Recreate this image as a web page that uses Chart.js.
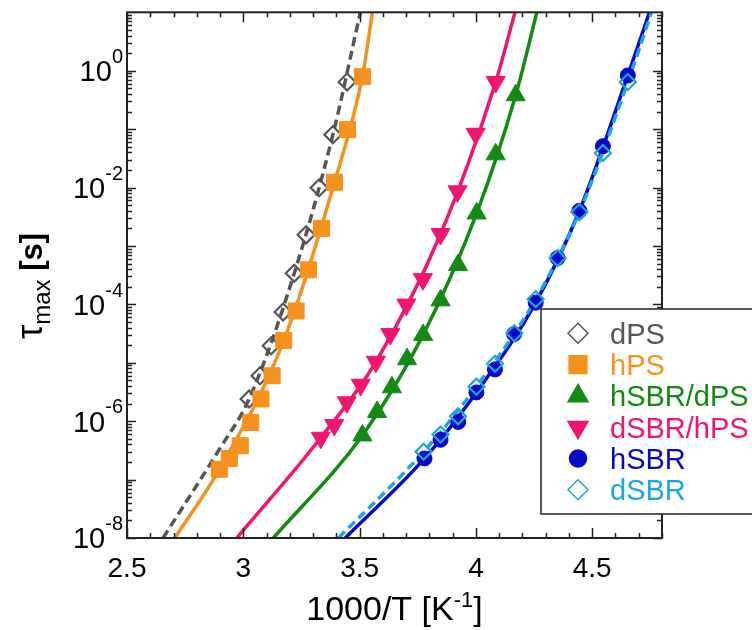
<!DOCTYPE html>
<html>
<head>
<meta charset="utf-8">
<script src="https://cdn.jsdelivr.net/npm/chart.js"></script>
<style>
  html, body { margin: 0; padding: 0; background: #fff; }
  canvas { display: block; }
</style>
</head>
<body>
<canvas id="tauChart" width="752" height="630"></canvas>
<script>
// x = 1000/T [1/K], y = tau_max [s]

// dPS (open grey diamonds + dashed fit)
const dpsX = [3.025, 3.072, 3.120, 3.171, 3.219, 3.270, 3.326, 3.385, 3.446];
const dpsY = [2.4e-6, 6.0e-6, 1.96e-5, 7.4e-5, 3.4e-4, 1.55e-3, 9.9e-3, 8.0e-2, 0.64];
const dpsFitX = [2.655, 2.897, 3.025, 3.219, 3.385, 3.503];
const dpsFitY = [1e-8, 3.3e-7, 2.4e-6, 3.4e-4, 8.0e-2, 10];

// hPS (orange squares)
const hpsX = [2.897, 2.940, 2.987, 3.032, 3.076, 3.124, 3.174, 3.227, 3.280, 3.336, 3.392, 3.448, 3.512];
const hpsY = [1.5e-7, 2.3e-7, 3.8e-7, 9.5e-7, 2.4e-6, 6.0e-6, 2.4e-5, 7.7e-5, 3.9e-4, 2.0e-3, 1.23e-2, 9.8e-2, 0.79];
const hpsFitX = [2.706, 2.897, 3.174, 3.392, 3.512, 3.555];
const hpsFitY = [1e-8, 1.5e-7, 2.4e-5, 1.23e-2, 0.79, 10];

// hSBR/dPS (green up triangles)
const hsbrDpsX = [3.512, 3.575, 3.639, 3.704, 3.773, 3.848, 3.923, 4.003, 4.085, 4.171];
const hsbrDpsY = [5.7e-7, 1.44e-6, 3.8e-6, 1.15e-5, 3.0e-5, 1.17e-4, 4.7e-4, 3.6e-3, 3.7e-2, 0.38];
const hsbrDpsFitX = [3.129, 3.512, 3.773, 4.003, 4.171, 4.262];
const hsbrDpsFitY = [1e-8, 5.7e-7, 3.0e-5, 3.6e-3, 0.38, 10];

// dSBR/hPS (pink down triangles)
const dsbrHpsX = [3.333, 3.391, 3.445, 3.505, 3.570, 3.632, 3.701, 3.772, 3.848, 3.921, 3.999, 4.085];
const dsbrHpsY = [5.2e-7, 8.6e-7, 2.1e-6, 4.2e-6, 1.04e-5, 3.1e-5, 9.9e-5, 2.7e-4, 1.6e-3, 8.6e-3, 8.3e-2, 0.64];
const dsbrHpsFitX = [2.972, 3.333, 3.570, 3.848, 4.085, 4.168];
const dsbrHpsFitY = [1e-8, 5.2e-7, 1.04e-5, 1.6e-3, 0.64, 10];

// hSBR (blue circles)
const hsbrX = [3.779, 3.848, 3.924, 4.002, 4.082, 4.164, 4.257, 4.351, 4.445, 4.546, 4.653];
const hsbrY = [2.3e-7, 4.8e-7, 9.7e-7, 3.1e-6, 7.7e-6, 3.1e-5, 1.07e-4, 6.2e-4, 4.0e-3, 5.1e-2, 0.83];
const hsbrFitX = [3.438, 3.779, 4.002, 4.257, 4.445, 4.653, 4.746];
const hsbrFitY = [1e-8, 2.3e-7, 3.1e-6, 1.07e-4, 4.0e-3, 0.83, 10];

// dSBR (open light-blue diamonds)
const dsbrX = [3.775, 3.848, 3.923, 4.002, 4.082, 4.165, 4.257, 4.351, 4.445, 4.546, 4.653];
const dsbrY = [3.0e-7, 5.9e-7, 1.21e-6, 3.9e-6, 9.6e-6, 3.2e-5, 1.22e-4, 6.2e-4, 3.8e-3, 3.9e-2, 0.64];
const dsbrFitX = [3.409, 3.775, 4.002, 4.257, 4.445, 4.653, 4.755];
const dsbrFitY = [1e-8, 3.0e-7, 3.9e-6, 1.22e-4, 3.8e-3, 0.64, 10];

// axis ticks
const xTickLabels = [2.5, 3, 3.5, 4, 4.5];
const yTickExponents = [0, -2, -4, -6, -8];

const FONT = "'Liberation Sans', Arial, sans-serif";
const GREY = '#555555';
const ORANGE = '#F7911D';
const GREEN = '#138A13';
const PINK = '#F2146F';
const BLUE = '#0808C8';
const LIGHTBLUE = '#1AA7E0';

const pts = (xs, ys) => xs.map((x, i) => ({ x: x, y: ys[i] }));

function fitLine(xs, ys, color, dashed, order) {
    return {
        data: pts(xs, ys),
        showLine: true,
        borderColor: color,
        borderWidth: 3.5,
        borderDash: dashed ? [9, 5] : [],
        pointRadius: 0,
        cubicInterpolationMode: 'monotone',
        order: order
    };
}

function markers(label, xs, ys, opts, order) {
    return Object.assign({
        label: label,
        data: pts(xs, ys),
        showLine: false,
        order: order
    }, opts);
}

const legendItems = [
    { text: 'dPS', color: GREY, style: 'rectRot', radius: 10, fill: false },
    { text: 'hPS', color: ORANGE, style: 'rect', radius: 12.5, fill: true },
    { text: 'hSBR/dPS', color: GREEN, style: 'triangle', radius: 11.5, fill: true },
    { text: 'dSBR/hPS', color: PINK, style: 'triangle', radius: 11.5, rotation: 180, fill: true },
    { text: 'hSBR', color: BLUE, style: 'circle', radius: 8.5, fill: true },
    { text: 'dSBR', color: LIGHTBLUE, style: 'rectRot', radius: 10, fill: false }
];

// draws a base string followed by a raised/lowered smaller string, returns total width
function textWithScript(ctx, base, baseFont, script, scriptFont, x, y, dy) {
    ctx.font = baseFont;
    ctx.fillText(base, x, y);
    const bw = ctx.measureText(base).width;
    ctx.font = scriptFont;
    ctx.fillText(script, x + bw, y + dy);
    return bw + ctx.measureText(script).width;
}

// frame with inward ticks, tick labels, axis titles, legend box
const decorations = {
    id: 'decorations',
    afterDraw(chart) {
        const ctx = chart.ctx;
        const a = chart.chartArea;
        const xs = chart.scales.x;
        const ys = chart.scales.y;
        ctx.save();

        // ticks
        ctx.strokeStyle = '#222';
        ctx.lineWidth = 1.5;
        ctx.beginPath();
        for (let i = 25; i <= 48; i++) {
            const px = Math.round(xs.getPixelForValue(i / 10)) + 0.5;
            const len = i % 5 === 0 ? 10 : 5;
            ctx.moveTo(px, a.bottom); ctx.lineTo(px, a.bottom - len);
            ctx.moveTo(px, a.top); ctx.lineTo(px, a.top + len);
        }
        for (let e = -8; e <= 0; e++) {
            for (let m = 1; m <= 9; m++) {
                const py = Math.round(ys.getPixelForValue(m * Math.pow(10, e))) + 0.5;
                const len = m === 1 ? 9 : 5;
                ctx.moveTo(a.left, py); ctx.lineTo(a.left + len, py);
                ctx.moveTo(a.right, py); ctx.lineTo(a.right - len, py);
            }
        }
        ctx.stroke();

        ctx.lineWidth = 2;
        ctx.strokeRect(a.left, a.top, a.right - a.left, a.bottom - a.top);

        // x tick labels
        ctx.fillStyle = '#000';
        ctx.font = '28px ' + FONT;
        ctx.textAlign = 'center';
        ctx.textBaseline = 'alphabetic';
        xTickLabels.forEach(v => {
            ctx.fillText(String(v), xs.getPixelForValue(v), 577);
        });

        // y tick labels 10^n
        ctx.textAlign = 'left';
        yTickExponents.forEach(e => {
            const py = ys.getPixelForValue(Math.pow(10, e));
            const sup = String(e);
            ctx.font = '20px ' + FONT;
            const sw = ctx.measureText(sup).width;
            ctx.font = '29px ' + FONT;
            const bw = ctx.measureText('10').width;
            textWithScript(ctx, '10', '29px ' + FONT, sup, '20px ' + FONT, 123 - sw - bw, py + 10.4, -18.2);
        });

        // x title: 1000/T [K^-1], centred on the plot area
        ctx.font = '34px ' + FONT;
        const w1 = ctx.measureText('1000/T [K').width;
        ctx.font = '22px ' + FONT;
        const w2 = ctx.measureText('-1').width;
        ctx.font = '34px ' + FONT;
        const w3 = ctx.measureText(']').width;
        const cx = (a.left + a.right) / 2;
        const tx = cx - (w1 + w2 + w3) / 2;
        textWithScript(ctx, '1000/T [K', '34px ' + FONT, '-1', '22px ' + FONT, tx, 620, -13);
        ctx.font = '34px ' + FONT;
        ctx.fillText(']', tx + w1 + w2, 620);

        // y title: tau_max [s]
        ctx.save();
        ctx.translate(42, 286);
        ctx.rotate(-Math.PI / 2);
        ctx.font = '36px ' + FONT;
        const wa = ctx.measureText('\u03C4').width;
        ctx.font = '24px ' + FONT;
        const wb = ctx.measureText('max').width;
        ctx.font = 'bold 31px ' + FONT;
        const wc = ctx.measureText(' [s]').width;
        const ty = -(wa + wb + wc) / 2;
        textWithScript(ctx, '\u03C4', '36px ' + FONT, 'max', '24px ' + FONT, ty, 0, 8);
        ctx.font = 'bold 31px ' + FONT;
        ctx.fillText(' [s]', ty + wa + wb, 0);
        ctx.restore();

        // legend
        const lx = 541, ltop = 309, lbottom = 514;
        ctx.fillStyle = '#fff';
        ctx.fillRect(lx, ltop, 800 - lx, lbottom - ltop);
        ctx.strokeStyle = '#222';
        ctx.lineWidth = 1.5;
        ctx.strokeRect(lx, ltop, 800 - lx, lbottom - ltop);
        ctx.font = '29px ' + FONT;
        legendItems.forEach((it, i) => {
            const cy = 333.3 + i * 31.3;
            ctx.fillStyle = it.fill ? it.color : 'rgba(0,0,0,0)';
            ctx.strokeStyle = it.color;
            Chart.helpers.drawPoint(ctx, {
                pointStyle: it.style,
                radius: it.radius,
                rotation: it.rotation || 0,
                borderWidth: it.fill ? 1 : 2.2
            }, 578, cy);
            ctx.fillStyle = it.color;
            ctx.fillText(it.text, 610, cy + 10.3);
        });

        ctx.restore();
    }
};

new Chart(document.getElementById('tauChart'), {
    type: 'scatter',
    data: {
        datasets: [
            fitLine(dpsFitX, dpsFitY, GREY, true, 20),
            fitLine(hpsFitX, hpsFitY, ORANGE, false, 19),
            fitLine(hsbrDpsFitX, hsbrDpsFitY, GREEN, false, 18),
            fitLine(dsbrHpsFitX, dsbrHpsFitY, PINK, false, 17),
            fitLine(hsbrFitX, hsbrFitY, BLUE, false, 16),
            fitLine(dsbrFitX, dsbrFitY, LIGHTBLUE, true, 15),
            markers('dPS', dpsX, dpsY, {
                pointStyle: 'rectRot', pointRadius: 8.5,
                pointBackgroundColor: 'rgba(0,0,0,0)', pointBorderColor: GREY, pointBorderWidth: 2.2
            }, 6),
            markers('hPS', hpsX, hpsY, {
                pointStyle: 'rect', pointRadius: 11.3,
                pointBackgroundColor: ORANGE, pointBorderColor: ORANGE, pointBorderWidth: 1
            }, 5),
            markers('hSBR/dPS', hsbrDpsX, hsbrDpsY, {
                pointStyle: 'triangle', pointRadius: 11,
                pointBackgroundColor: GREEN, pointBorderColor: GREEN, pointBorderWidth: 1
            }, 4),
            markers('dSBR/hPS', dsbrHpsX, dsbrHpsY, {
                pointStyle: 'triangle', pointRadius: 11, pointRotation: 180,
                pointBackgroundColor: PINK, pointBorderColor: PINK, pointBorderWidth: 1
            }, 3),
            markers('hSBR', hsbrX, hsbrY, {
                pointStyle: 'circle', pointRadius: 7.5,
                pointBackgroundColor: BLUE, pointBorderColor: BLUE, pointBorderWidth: 1
            }, 2),
            markers('dSBR', dsbrX, dsbrY, {
                pointStyle: 'rectRot', pointRadius: 8,
                pointBackgroundColor: 'rgba(0,0,0,0)', pointBorderColor: LIGHTBLUE, pointBorderWidth: 2.2
            }, 1)
        ]
    },
    options: {
        responsive: false,
        animation: false,
        devicePixelRatio: 1,
        layout: { padding: { left: 127, right: 90, top: 4, bottom: 92 } },
        plugins: {
            legend: { display: false },
            tooltip: { enabled: false }
        },
        scales: {
            x: { type: 'linear', min: 2.5, max: 4.8, display: false },
            y: { type: 'logarithmic', min: 1e-8, max: 10, display: false }
        }
    },
    plugins: [decorations]
});
</script>
</body>
</html>
